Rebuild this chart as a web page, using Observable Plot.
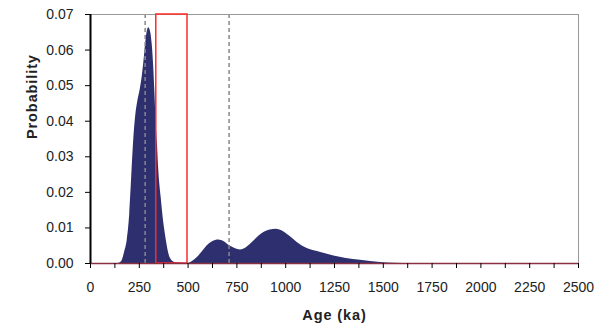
<!DOCTYPE html>
<html>
<head>
<meta charset="utf-8">
<script src="https://cdn.jsdelivr.net/npm/d3@7"></script>
<script src="https://cdn.jsdelivr.net/npm/@observablehq/plot@0.6"></script>
<style>
  html, body { margin: 0; padding: 0; background: #fff; }
</style>
</head>
<body>
<div id="chart"></div>
<script>
// Probability density of age (ka)
const ages = [0, 140, 155, 162, 175, 188, 201, 210, 219, 226, 233, 242, 255, 265, 275, 282, 290, 298, 306, 316, 324, 330, 336, 343, 350, 362, 372, 381, 390, 400, 418, 440, 470, 495, 520, 546, 572, 597, 625, 657, 685, 709, 740, 768, 800, 837, 865, 888, 920, 953, 980, 1007, 1035, 1059, 1110, 1180, 1247, 1310, 1383, 1486, 1560, 1650, 2500];
const probs = [0, 0, 0.0003, 0.0008, 0.0032, 0.0065, 0.0139, 0.0232, 0.0325, 0.0382, 0.0422, 0.0455, 0.049, 0.0525, 0.0575, 0.0615, 0.065, 0.0663, 0.0655, 0.0617, 0.055, 0.048, 0.040, 0.0335, 0.026, 0.0186, 0.013, 0.0092, 0.006, 0.003, 0.0008, 0.0002, 0.00005, 0, 0.0005, 0.0016, 0.0032, 0.0049, 0.0061, 0.0066, 0.0061, 0.0051, 0.0042, 0.0038, 0.0045, 0.0063, 0.0078, 0.0087, 0.0094, 0.0096, 0.0092, 0.0082, 0.007, 0.0059, 0.0042, 0.0031, 0.0021, 0.0014, 0.0009, 0.0003, 0.0001, 0, 0];

// Reference lines (ka)
const dashedAges = [280, 710];
const redWindow = [337, 497];

// Axis ticks
const xTicks = d3.range(0, 2501, 125);
const xLabelStep = 250;
const yTicks = [0, 0.01, 0.02, 0.03, 0.04, 0.05, 0.06, 0.07];

const density = ages.map((a, i) => ({age: a, p: probs[i]}));

const chart = Plot.plot({
  width: 616,
  height: 327,
  marginLeft: 90,
  marginRight: 38,
  marginTop: 14,
  marginBottom: 64,
  style: {fontFamily: "'Liberation Sans', Arial, sans-serif", fontSize: "14px", color: "#222", background: "#fff"},
  x: {domain: [0, 2500], axis: null},
  y: {domain: [0, 0.07], axis: null},
  marks: [
    Plot.areaY(density, {x: "age", y: "p", fill: "#2d2f6f", curve: "monotone-x"}),
    Plot.ruleX(dashedAges, {y1: 0, y2: 0.07, stroke: "#888", strokeWidth: 1.5, strokeDasharray: "4,3"}),
    Plot.ruleY([0.07], {stroke: "#999", strokeWidth: 1}),
    Plot.ruleX([2500], {stroke: "#999", strokeWidth: 1}),
    Plot.rect([redWindow], {x1: d => d[0], x2: d => d[1], y1: 0, y2: 0.07, fill: "none", stroke: "#ff2a2a", strokeWidth: 1.5}),
    Plot.ruleY([0], {stroke: "#8a3040", strokeWidth: 1.5}),
    Plot.ruleX([0], {stroke: "#000", strokeWidth: 2}),
    Plot.axisY({ticks: yTicks, tickFormat: d3.format(".2f"), tickSize: 5, tickPadding: 12, label: null, stroke: "#000", fill: "#222", fontSize: 14}),
    Plot.axisX({ticks: xTicks, tickFormat: d => d % xLabelStep === 0 ? String(d) : "", tickSize: 5, tickPadding: 14, label: null, stroke: "#000", fill: "#222", fontSize: 14}),
    Plot.text(["Probability"], {frameAnchor: "left", rotate: -90, dx: -58, fontWeight: "bold", fontSize: 14.5, fill: "#222"}),
    Plot.text(["Age (ka)"], {frameAnchor: "bottom", dy: 56, fontWeight: "bold", fontSize: 14.5, fill: "#222"})
  ]
});
d3.select(chart).selectAll("text").filter(function() {
  const t = this.textContent;
  return t === "Probability" || t === "Age (ka)";
}).style("letter-spacing", "0.9px");
document.getElementById("chart").appendChild(chart);
</script>
</body>
</html>
